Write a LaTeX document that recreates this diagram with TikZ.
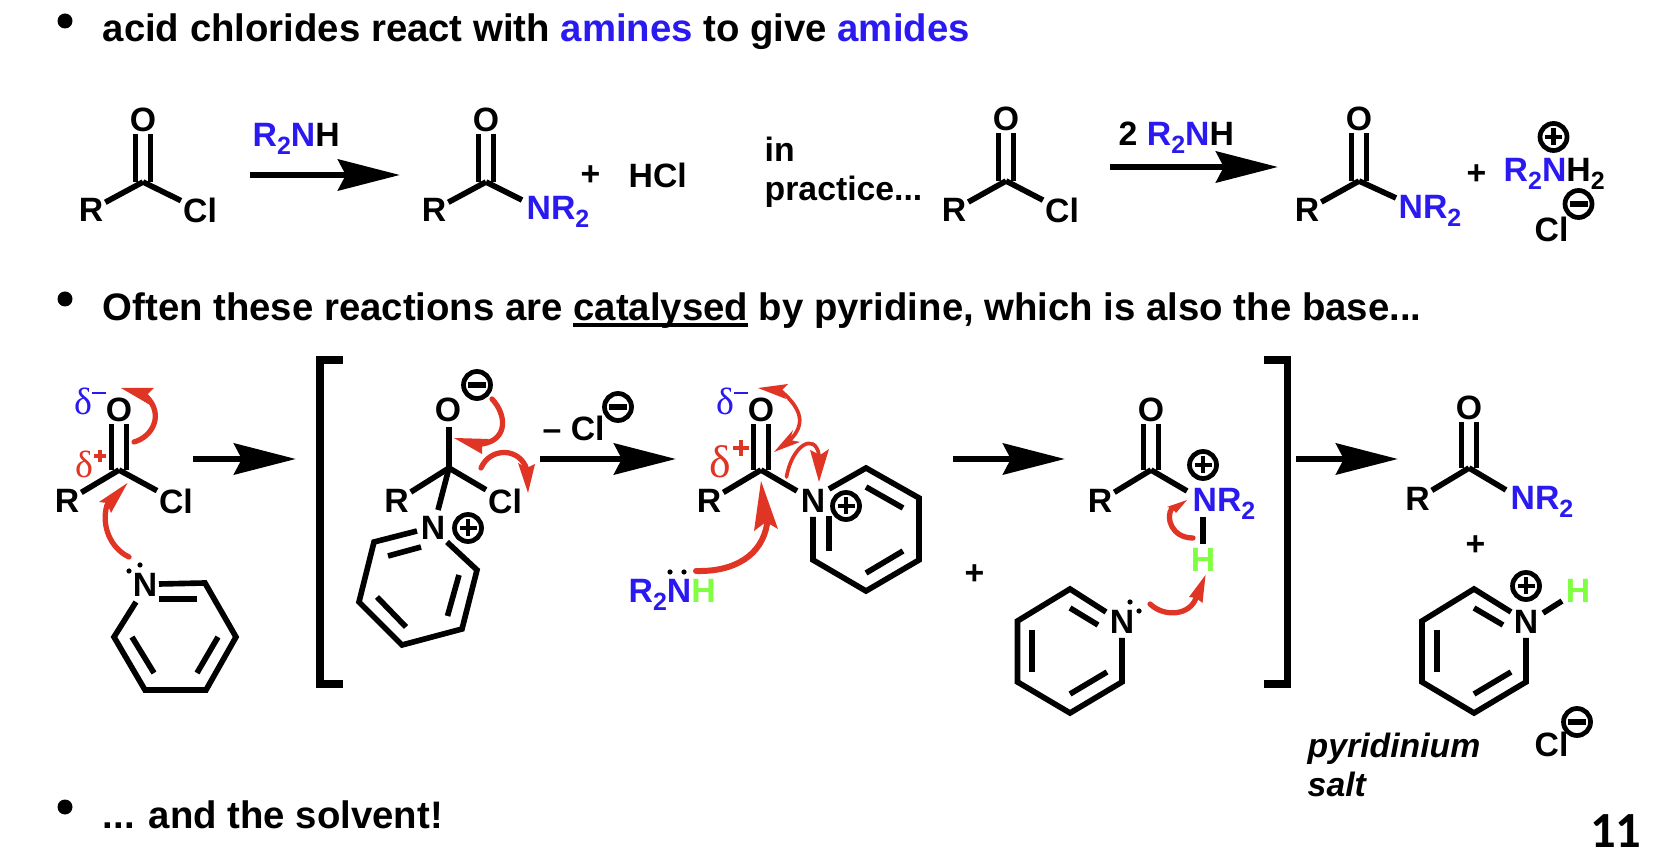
\documentclass[tikz,border=0pt]{standalone}
\usepackage{fontspec}
\setmainfont{Liberation Sans}
\newfontfamily\serifgreek{Liberation Serif}
\newfontfamily\slidenum{Carlito}
\usetikzlibrary{arrows.meta}
\definecolor{chemblue}{HTML}{2A1AF0}
\definecolor{chemgreen}{HTML}{80FF40}
\definecolor{chemred}{HTML}{E03424}
\newcommand{\chem}{\fontsize{9.6}{11}\selectfont\bfseries}
\newcommand{\subtwo}{\raisebox{-2pt}{\fontsize{7.1}{8}\selectfont 2}}
\newcommand{\amine}{\textcolor{chemblue}{R\subtwo N}}
\tikzset{
  atom/.style={font=\chem, inner sep=0.4pt},
  chemtext/.style={font=\chem, inner sep=0pt, anchor=base west},
  slidetext/.style={font=\fontsize{10.9}{13}\selectfont\bfseries, inner sep=0pt, anchor=base west},
  bond/.style={line width=1.6pt, line cap=butt},
  dbond/.style={line width=1.6pt, double, double distance=2.6pt},
  rxnarrow/.style={line width=1.9pt, -{Stealth[length=17.6pt,width=8.8pt,inset=2.2pt]}},
  chgline/.style={line width=1.35pt},
  curly/.style={chemred, line width=1.5pt, line cap=round},
  curlyhead/.style={fill=chemred},
  brack/.style={line width=2pt}
}
\begin{document}
\begin{tikzpicture}[x=0.01cm,y=-0.01cm]
  \useasboundingbox (0,0) rectangle (1671,862);

  % Bullets and slide text
  \foreach \y in {21,299,807}
    \fill (65,\y) circle (7.5);
  \node[slidetext] (line1) at (102,42) {acid chlorides react with \textcolor{chemblue}{amines} to give \textcolor{chemblue}{amides}};
  \node[slidetext] (line2) at (102,321) {Often these reactions are catalysed by pyridine, which is also the base...};
  \node[slidetext] (line3) at (102,828) {... and the solvent!};
  \draw[line width=0.9pt] (573,325) -- (748,325);
  \node[font=\slidenum\fontsize{14.4}{16}\selectfont\bfseries, inner sep=0pt, anchor=base east] (page) at (1642,847) {11};

  % Carbonyl groups
  \foreach \n/\x/\y/\oy/\rx/\ry in {1/143/182/120/91/210,2/486/182/120/434/210,3/1006/181/119/954/210,4/1359/181/119/1307/210,
    5/119/470/410/67/501,6/761/470/410/709/501,7/1151/470/410/1100/501,8/1469/468/408/1417.5/499} {
    \coordinate (c\n) at (\x,\y);
    \node[atom] (o\n) at (\x,\oy) {O};
    \node[atom] (r\n) at (\rx,\ry) {R};
    \draw[dbond] (c\n) -- (o\n);
    \draw[bond] (c\n) -- (r\n);
  }

  % Chlorides
  \foreach \n/\x/\y in {1/200/210,3/1062/210,5/176/501} {
    \node[atom] (cl\n) at (\x,\y) {Cl};
    \draw[bond] (c\n) -- (cl\n);
  }

  % Amide ends
  \foreach \n/\x/\y/\ex/\ey in {2/526/220/522/200,4/1398/219/1396/198,8/1510/510/1506/490} {
    \node[chemtext] (nr\n) at (\x,\y) {\textcolor{chemblue}{NR\subtwo}};
    \coordinate (nb\n) at (\ex,\ey);
    \draw[bond] (c\n) -- (nb\n);
  }

  % Top row text
  \node[chemtext] (amine1) at (252,147) {\amine H};
  \node[chemtext] (plus1) at (580,186) {+};
  \node[chemtext] (hcl) at (628,188) {HCl};
  \node[chemtext] (in) at (764,162) {in};
  \node[chemtext] (practice) at (764,201) {practice...};
  \node[chemtext] (amine2) at (1118,146) {2 \amine H};
  \node[chemtext] (plus2) at (1466,185) {+};
  \node[chemtext] (salt1) at (1503,182) {\amine H\subtwo};
  \node[chemtext] (cl9) at (1534,242) {Cl};

  % Reaction arrows
  \foreach \n/\xa/\xb/\y in {1/250/400/175,2/1110/1278/167,3/193/296/459,4/540/676/459,5/953/1065/459,6/1296/1398/459} {
    \coordinate (as\n) at (\xa,\y);
    \coordinate (ae\n) at (\xb,\y);
    \draw[rxnarrow] (as\n) -- (ae\n);
  }

  % Brackets
  \draw[brack] (343,360) -- (320,360) -- (320,684) -- (343,684);
  \draw[brack] (1264,360) -- (1287.5,360) -- (1287.5,684) -- (1264,684);

  % Pyridine attacking
  \node[atom] (n1) at (145,585) {N};
  \draw[bond, line join=miter] (159,584) -- (205,583) -- (236,637) -- (206,690) -- (145,690) -- (114,637) -- (136,602);
  \draw[bond] (159,599) -- (197,599);
  \draw[bond] (132,637) -- (154,673);
  \draw[bond] (218,637) -- (197,673);

  % Tetrahedral intermediate
  \coordinate (c9) at (449,468);
  \node[atom] (o9) at (448,410) {O};
  \node[atom] (r9) at (396.5,501) {R};
  \node[atom] (cl10) at (505,501) {Cl};
  \node[atom] (n2) at (433,528) {N};
  \draw[bond] (c9) -- (449,427);
  \draw[bond] (c9) -- (r9);
  \draw[bond] (c9) -- (cl10);
  \draw[bond] (c9) -- (438,510);
  \draw[bond, line join=miter] (417,531) -- (374,542) -- (359,602) -- (402,645) -- (462,629) -- (477,570) -- (447,542);
  \draw[bond] (388,556) -- (421,547);
  \draw[bond] (377,597) -- (406,627);
  \draw[bond] (459,575) -- (447.5,616);

  % Acyl pyridinium
  \node[atom] (n3) at (813,501) {N};
  \draw[bond] (c6) -- (797,491);
  \draw[bond, line join=miter] (829,489) -- (866,468) -- (919,498) -- (919,560) -- (866,591) -- (813,560) -- (813,517);
  \draw[bond] (866,487) -- (903,508);
  \draw[bond] (903,551) -- (866,573);
  \draw[bond] (829,516) -- (829,551);
  \node[chemtext] (amine3) at (628,603) {\amine\textcolor{chemgreen}{H}};
  \node[chemtext] (cl11) at (542,441) {-- Cl};
  \node[chemtext] (plus3) at (964,585) {+};

  % Protonated amide and free pyridine
  \node[chemtext] (nr7) at (1192,512) {\textcolor{chemblue}{NR\subtwo}};
  \coordinate (nb7) at (1187,491);
  \draw[bond] (c7) -- (nb7);
  \draw[bond] (1203,517) -- (1203,544);
  \node[atom] (h1) at (1203,560) {\textcolor{chemgreen}{H}};
  \node[atom] (n4) at (1122,622) {N};
  \draw[bond, line join=miter] (1106,612) -- (1070,589) -- (1017.5,621) -- (1017.5,682) -- (1070,713) -- (1122,682) -- (1122,638);
  \draw[bond] (1070,608) -- (1098,625);
  \draw[bond] (1032,630) -- (1032,672);
  \draw[bond] (1070,694) -- (1107,672);

  % Pyridinium salt
  \node[chemtext] (plus4) at (1465,556) {+};
  \node[atom] (n5) at (1526,622) {N};
  \draw[bond, line join=miter] (1511,612) -- (1474,589) -- (1422,621) -- (1422,682) -- (1474,713) -- (1526,682) -- (1526,638);
  \draw[bond] (1474,608) -- (1503,625);
  \draw[bond] (1437,630) -- (1437,672);
  \draw[bond] (1474,694) -- (1511,672);
  \draw[bond] (1543,613) -- (1562,601);
  \node[atom] (h2) at (1578,591) {\textcolor{chemgreen}{H}};
  \node[chemtext] (cl12) at (1534,756) {Cl};
  \node[chemtext, font=\chem\itshape] (pyrsalt1) at (1307,758) {pyridinium};
  \node[chemtext, font=\chem\itshape] (pyrsalt2) at (1307,796) {salt};

  % Charges
  \foreach \x/\y in {1553.5/137,468/528,846/506,1203/465,1526/586} {
    \draw[chgline] (\x,\y) circle (13.5);
    \draw[chgline] (\x-8.5,\y) -- (\x+8.5,\y);
    \draw[chgline] (\x,\y-8.5) -- (\x,\y+8.5);
  }
  \foreach \x/\y in {1578.5/204,477/385,618/407,1577/722} {
    \draw[chgline] (\x,\y) circle (13.5);
    \draw[chgline, line width=1.7pt] (\x-9,\y) -- (\x+9,\y);
  }

  % Lone pairs
  \foreach \x/\y in {129/571,140/565,670/572,684/572,1130/602,1139/611}
    \fill (\x,\y) circle (2.6);

  % Partial charges
  \node[font=\serifgreek\fontsize{10.8}{12}\selectfont, text=chemblue, inner sep=0pt] (dm1) at (83,401) {δ};
  \node[font=\serifgreek\fontsize{10.8}{12}\selectfont, text=chemblue, inner sep=0pt] (dm2) at (725,401) {δ};
  \node[font=\serifgreek\fontsize{10.8}{12}\selectfont, text=chemred, inner sep=0pt] (dp1) at (84,464) {δ};
  \node[font=\serifgreek\fontsize{13}{15}\selectfont, text=chemred, inner sep=0pt] (dp2) at (720,462) {δ};
  \draw[chemblue, line width=0.8pt] (92,393) -- (106,393);
  \draw[chemblue, line width=0.8pt] (734,393) -- (748,393);
  \draw[chemred, line width=1.1pt] (94,456) -- (106,456);
  \draw[chemred, line width=1.1pt] (100,450) -- (100,462);
  \draw[chemred, line width=1.4pt] (733,448) -- (749,448);
  \draw[chemred, line width=1.4pt] (741,440) -- (741,456);

  % Curly arrows
  \draw[curly] (134,442) .. controls (152,437) and (165,415) .. (146,396);
  \fill[curlyhead] (121,388) -- (154,388) -- (146,396) -- (150,405) -- cycle;
  \draw[curly] (129,557) .. controls (110,548) and (101,525) .. (107,505);
  \fill[curlyhead] (127.5,483) -- (99,502) -- (107,503) -- (111,513) -- cycle;
  \draw[curly] (492,399) .. controls (507,415) and (508,440) .. (482,444);
  \fill[curlyhead] (454,438) -- (489,439) -- (482,444) -- (482,454) -- cycle;
  \draw[curly] (481,468) .. controls (490,447) and (520,447) .. (527,470);
  \fill[curlyhead] (528,493) -- (518,463) -- (527,468) -- (535,464) -- cycle;
  \draw[curly, line width=1.05pt] (781,391) .. controls (803,410) and (805,425) .. (790,440);
  \fill[curlyhead] (758,388) -- (788,384) -- (781,391) -- (786,399) -- cycle;
  \fill[curlyhead] (774,452) -- (793,430) -- (790,440) -- (800,442) -- cycle;
  \draw[curly, line width=1.05pt] (786.5,477) .. controls (792,445) and (815,432) .. (819,455);
  \fill[curlyhead] (819,482) -- (810,450) -- (820,455) -- (829,449) -- cycle;
  \draw[curly, line width=1.7pt] (696,571) .. controls (735,572) and (762,555) .. (767,524);
  \fill[curlyhead] (761,481) -- (754,531) -- (766,522) -- (778,529) -- cycle;
  \draw[curly] (1193,538) .. controls (1172,538) and (1165,518) .. (1172,508);
  \fill[curlyhead] (1187,500) -- (1167,507) -- (1172,508) -- (1176,513) -- cycle;
  \draw[curly] (1150,604) .. controls (1165,618) and (1190,615) .. (1196,598);
  \fill[curlyhead] (1205.5,575) -- (1189,597) -- (1196,598) -- (1202.5,603) -- cycle;
\end{tikzpicture}
\end{document}
